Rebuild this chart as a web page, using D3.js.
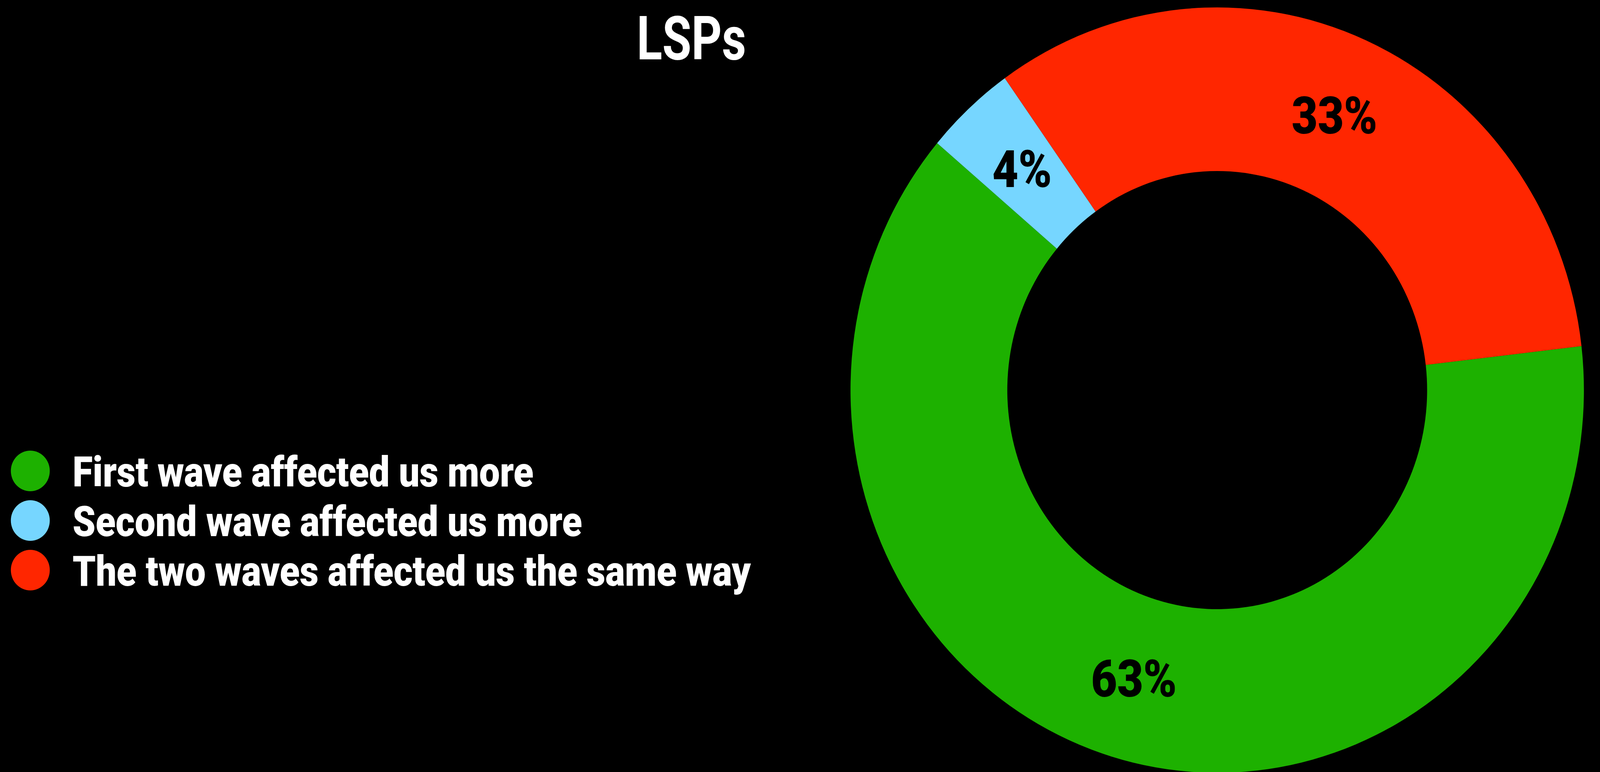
<!doctype html>
<html>
<head>
<meta charset="utf-8">
<title>LSPs</title>
<script src="https://d3js.org/d3.v7.min.js"></script>
<style>
  html, body { margin: 0; padding: 0; background: #000; overflow: hidden; }
  svg { display: block; }
  text { font-family: Roboto, "Liberation Sans", sans-serif; font-variant-ligatures: none; }
  .title { font-weight: bold; fill: #fff; }
  .legend text { font-weight: 900; fill: #fff; }
  .pct { font-weight: 900; fill: #000; }
</style>
</head>
<body>
<div id="chart"></div>
<script>
// data
var title = "LSPs";
var categories = ["First wave affected us more", "Second wave affected us more", "The two waves affected us the same way"];
var values = [63, 4, 33];
var colors = ["#1DB100", "#76D6FF", "#FF2600"];

var width = 4276, height = 1977;
var cx = 3253, cy = 999, outerR = 980, innerR = 561;
var startDeg = 83.4;   // first slice starts just below 3 o'clock

// fill the window whatever its real size is
var svg = d3.select("#chart").append("svg")
    .attr("viewBox", "0 0 " + width + " " + height)
    .attr("preserveAspectRatio", "none")
    .style("width", "100vw")
    .style("height", "100vh");

svg.append("rect")
    .attr("width", width)
    .attr("height", height)
    .attr("fill", "#000");

// squeeze text horizontally (reference uses a heavy condensed face)
function squeeze(sel, k) {
    sel.each(function() {
        var w = this.getComputedTextLength();
        d3.select(this)
          .attr("textLength", w * k)
          .attr("lengthAdjust", "spacingAndGlyphs");
    });
}

svg.append("text")
    .attr("class", "title")
    .attr("x", 1848)
    .attr("y", 152)
    .attr("text-anchor", "middle")
    .style("font-size", "156px")
    .text(title)
    .call(squeeze, 0.81);

var pie = d3.pie()
    .sort(null)
    .startAngle(startDeg * Math.PI / 180)
    .endAngle(startDeg * Math.PI / 180 + 2 * Math.PI);

var arc = d3.arc()
    .innerRadius(innerR)
    .outerRadius(outerR);

var arcs = pie(values);

var donut = svg.append("g")
    .attr("transform", "translate(" + cx + "," + cy + ")");

donut.selectAll("path")
    .data(arcs)
  .enter().append("path")
    .attr("d", arc)
    .attr("fill", function(d, i) { return colors[i]; });

donut.selectAll(".pct")
    .data(arcs)
  .enter().append("text")
    .attr("class", "pct")
    .attr("transform", function(d) { return "translate(" + arc.centroid(d) + ")"; })
    .attr("dy", "0.36em")
    .attr("text-anchor", "middle")
    .style("font-size", "131px")
    .text(function(d) { return d.data + "%"; })
    .call(squeeze, 0.92);

var legend = svg.append("g")
    .attr("class", "legend");

var y = d3.scalePoint()
    .domain(categories)
    .range([1206, 1460]);

var item = legend.selectAll("g")
    .data(categories)
  .enter().append("g")
    .attr("transform", function(d) { return "translate(0," + y(d) + ")"; });

item.append("circle")
    .attr("cx", 81)
    .attr("cy", 0)
    .attr("r", 52)
    .attr("fill", function(d, i) { return colors[i]; });

item.append("text")
    .attr("x", 194)
    .attr("y", 40)
    .style("font-size", "108px")
    .text(function(d) { return d; })
    .call(squeeze, 0.91);
</script>
</body>
</html>
